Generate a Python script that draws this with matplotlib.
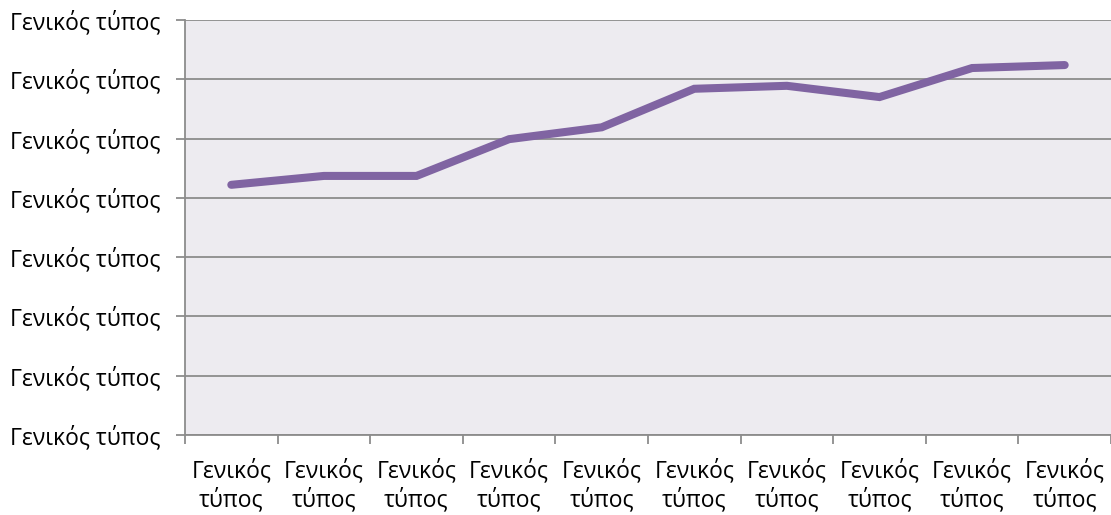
import matplotlib.pyplot as plt
import numpy as np

plt.rcParams["font.family"] = ["Open Sans", "DejaVu Sans"]
plt.rcParams["font.size"] = 16.5

# data
categories = ["Γενικός\nτύπος"] * 10
values = [4.22, 4.37, 4.37, 4.99, 5.19, 5.84, 5.89, 5.70, 6.19, 6.24]
y_labels = ["Γενικός τύπος"] * 8

fig = plt.figure(figsize=(11.11, 5.15), dpi=100)
ax = fig.add_axes([185 / 1111, 1 - 435 / 515, 1 - 185 / 1111, (435 - 20) / 515])
ax.set_facecolor("#EDEBF0")

x = np.arange(len(values))
ax.plot(x, values, color="#8064A2", linewidth=5.8, solid_capstyle="round",
        solid_joinstyle="miter", zorder=3)

ax.set_xlim(-0.5, len(values) - 0.5)
ax.set_ylim(0, 7)
ax.set_yticks(np.arange(8))
ax.set_yticklabels(y_labels)
ax.yaxis.grid(True, color="#8C8C8C", linewidth=1.3)
ax.set_axisbelow(True)

ax.set_xticks(np.arange(len(values) + 1) - 0.5)
ax.set_xticklabels([])
ax.set_xticks(x, minor=True)
ax.set_xticklabels(categories, minor=True, linespacing=1.25)
ax.tick_params(axis="x", which="minor", length=0, pad=17)
ax.tick_params(axis="x", which="major", length=6.5, width=1.3, color="#8C8C8C")
ax.tick_params(axis="y", length=6.5, width=1.3, color="#8C8C8C", pad=11)

for s in ["top", "right"]:
    ax.spines[s].set_visible(False)
for s in ["left", "bottom"]:
    ax.spines[s].set_color("#8C8C8C")
    ax.spines[s].set_linewidth(1.3)

plt.savefig("out.png", dpi=100)
